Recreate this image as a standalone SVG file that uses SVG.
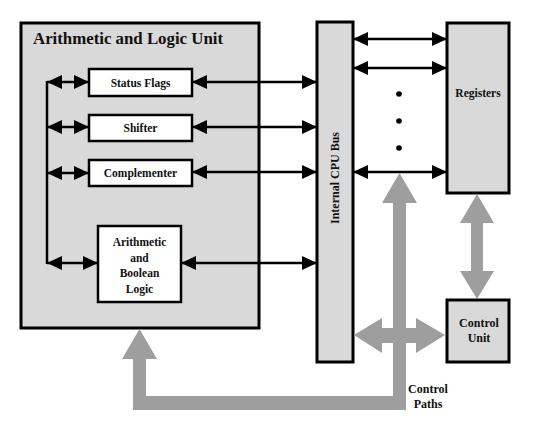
<svg xmlns="http://www.w3.org/2000/svg" width="533" height="436" viewBox="0 0 533 436">
<style>
.box{fill:#d9d9d9;stroke:#000;stroke-width:3}
.wbox{fill:#fff;stroke:#000;stroke-width:2.5}
.t{font-family:"Liberation Serif","Times New Roman","DejaVu Serif",serif;font-weight:bold;fill:#111}
.ln{stroke:#000;stroke-width:2.5;fill:none}
.ar{stroke:#000;stroke-width:2.5;fill:none;marker-start:url(#ah);marker-end:url(#ah)}
.gr{fill:#9e9e9e}
</style>
<defs>
<marker id="ah" markerUnits="userSpaceOnUse" markerWidth="15" markerHeight="15" viewBox="0 0 15 14" refX="15" refY="7" orient="auto-start-reverse">
<path d="M0,0 L15,7 L0,14 z" fill="#000"/>
</marker>
</defs>
<rect width="533" height="436" fill="#fff"/>
<g id="alu">
<rect class="box" x="21" y="23" width="238" height="305"/>
<text class="t" x="33" y="44" font-size="16" textLength="190" lengthAdjust="spacingAndGlyphs">Arithmetic and Logic Unit</text>
</g>
<g id="status-flags">
<rect class="wbox" x="89" y="69" width="103" height="27"/>
<text class="t" x="140.5" y="87" font-size="11.5" text-anchor="middle">Status Flags</text>
</g>
<g id="shifter">
<rect class="wbox" x="89" y="115" width="103" height="26"/>
<text class="t" x="140.5" y="132" font-size="11.5" text-anchor="middle">Shifter</text>
</g>
<g id="complementer">
<rect class="wbox" x="89" y="160" width="103" height="26"/>
<text class="t" x="140.5" y="177" font-size="11.5" text-anchor="middle">Complementer</text>
</g>
<g id="arith-bool">
<rect class="wbox" x="98" y="226" width="83" height="76"/>
<text class="t" font-size="11.5" text-anchor="middle"><tspan x="139.5" y="246">Arithmetic</tspan><tspan x="139.5" y="262">and</tspan><tspan x="139.5" y="277">Boolean</tspan><tspan x="139.5" y="293">Logic</tspan></text>
</g>
<g id="bus">
<rect class="box" x="317" y="22" width="36" height="340" stroke-width="2.5"/>
<text class="t" font-size="12" text-anchor="middle" transform="translate(339,178) rotate(-90)">Internal CPU Bus</text>
</g>
<g id="registers">
<rect class="box" x="447" y="23" width="62" height="170" stroke-width="2.5"/>
<text class="t" x="478" y="97" font-size="11.5" text-anchor="middle">Registers</text>
</g>
<g id="control-unit">
<rect class="box" x="447" y="300" width="62" height="62" stroke-width="2.5"/>
<text class="t" font-size="12" text-anchor="middle"><tspan x="479" y="327">Control</tspan><tspan x="479" y="342">Unit</tspan></text>
</g>
<g id="connectors">
<line class="ln" x1="47" y1="81" x2="47" y2="264"/>
<line class="ar" x1="47" y1="82" x2="89" y2="82"/>
<line class="ar" x1="47" y1="127" x2="89" y2="127"/>
<line class="ar" x1="47" y1="173" x2="89" y2="173"/>
<line class="ar" x1="47" y1="263" x2="98" y2="263"/>
<line class="ar" x1="192" y1="82" x2="317" y2="82"/>
<line class="ar" x1="192" y1="127" x2="317" y2="127"/>
<line class="ar" x1="192" y1="172" x2="317" y2="172"/>
<line class="ar" x1="181" y1="263" x2="317" y2="263"/>
<line class="ar" x1="353" y1="39" x2="447" y2="39" stroke-width="2"/>
<line class="ar" x1="353" y1="68" x2="447" y2="68" stroke-width="2"/>
<line class="ar" x1="353" y1="172" x2="447" y2="172" stroke-width="2"/>
<circle cx="399" cy="94" r="2.8"/>
<circle cx="399" cy="121" r="2.8"/>
<circle cx="399" cy="148" r="2.8"/>
<polygon class="gr" points="399.5,173 417,203 406,203 406,410 133,410 133,359 122,359 139.5,329 157,359 146,359 146,396 393,396 393,203 382,203"/>
<polygon class="gr" points="354,335 382,318 382,328 416,328 416,318 445,335 416,353 416,343 382,343 382,353"/>
<polygon class="gr" points="477,194 494,223 483,223 483,271 494,271 477,299 460,271 471,271 471,223 460,223"/>
</g>
<g id="label-control-paths">
<text class="t" font-size="12" text-anchor="middle"><tspan x="428" y="393">Control</tspan><tspan x="428" y="408">Paths</tspan></text>
</g>
</svg>
